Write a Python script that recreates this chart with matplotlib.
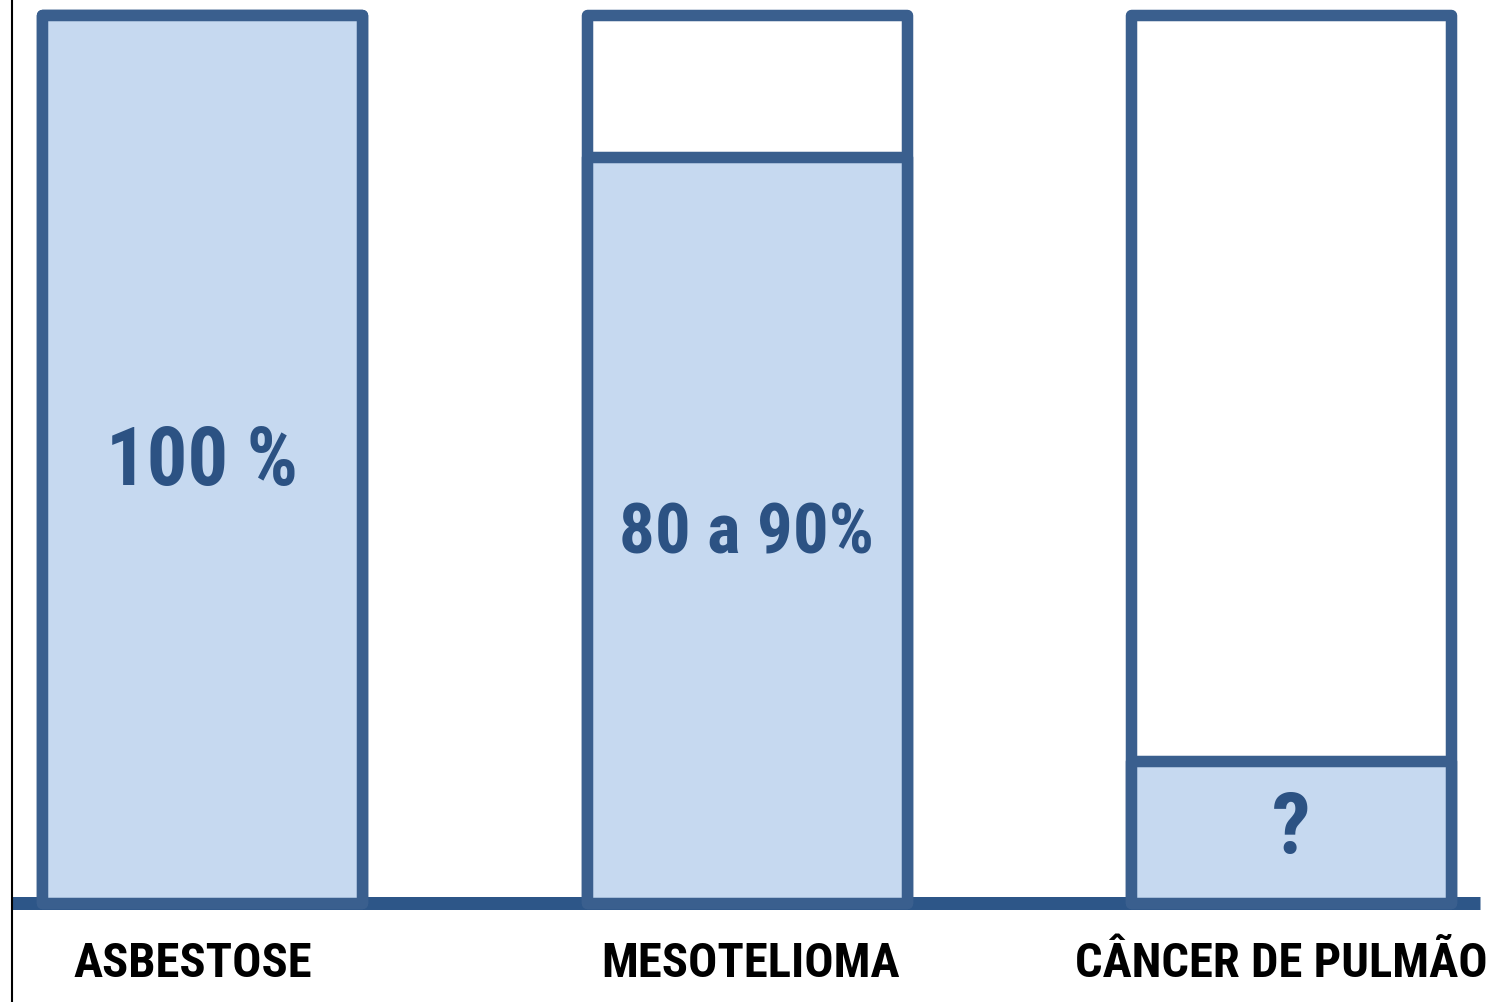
import matplotlib
matplotlib.use("Agg")
import matplotlib.pyplot as plt
from matplotlib.lines import Line2D

categories = ["ASBESTOSE", "MESOTELIOMA", "CÂNCER DE PULMÃO"]
filled = [100, 84, 16]
inner_labels = ["100 %", "80 a 90%", "?"]
total = [100, 100, 100]

FONT = ["Roboto Condensed", "Liberation Sans", "DejaVu Sans"]

border = "#3A5F8E"
fill = "#C6D9F0"
txtblue = "#2C5283"
base = "#2D5688"

W, H = 1497, 1002
fig = plt.figure(figsize=(W / 100, H / 100), dpi=100)
fig.patch.set_facecolor("white")

left_px, right_px = 12, 1480
top_px, bot_px = 15, 903
ax = fig.add_axes([left_px / W, (H - bot_px) / H, (right_px - left_px) / W, (bot_px - top_px) / H])
x = [0, 1, 2]
sp = 544.5
ax.set_xlim((left_px - 202) / sp, (right_px - 202) / sp)
ax.set_ylim(0, 100)
ax.axis("off")

bw = 320 / sp
lw = 11.5 * 72 / 100
ax.axhline(0, color=base, linewidth=13 * 72 / 100, zorder=1, clip_on=False,
           solid_capstyle="butt")
ax.bar(x, total, width=bw, facecolor="white", edgecolor=border, linewidth=lw,
       joinstyle="round", zorder=2, clip_on=False)
ax.bar(x, filled, width=bw, facecolor=fill, edgecolor=border, linewidth=lw,
       joinstyle="round", zorder=3, clip_on=False)

# inner labels (y in data units)
label_y = [49.5, 41.5, 8.2]
sizes = [58, 51, 62]
for xi, yi, t, s in zip(x, label_y, inner_labels, sizes):
    ax.text(xi, yi, t, ha="center", va="center", color=txtblue, fontsize=s,
            fontweight="bold", family=FONT, zorder=5)

# category labels
label_x = [193, 751, 1281]
for lx, c in zip(label_x, categories):
    fig.text(lx / W, (H - 964) / H, c, ha="center", va="center", color="black",
             fontsize=35, fontweight="bold", family=FONT)

fig.add_artist(Line2D([12 / W, 12 / W], [0, 1], color="black", linewidth=1.5))

fig.savefig("out.png", dpi=100, facecolor="white")
